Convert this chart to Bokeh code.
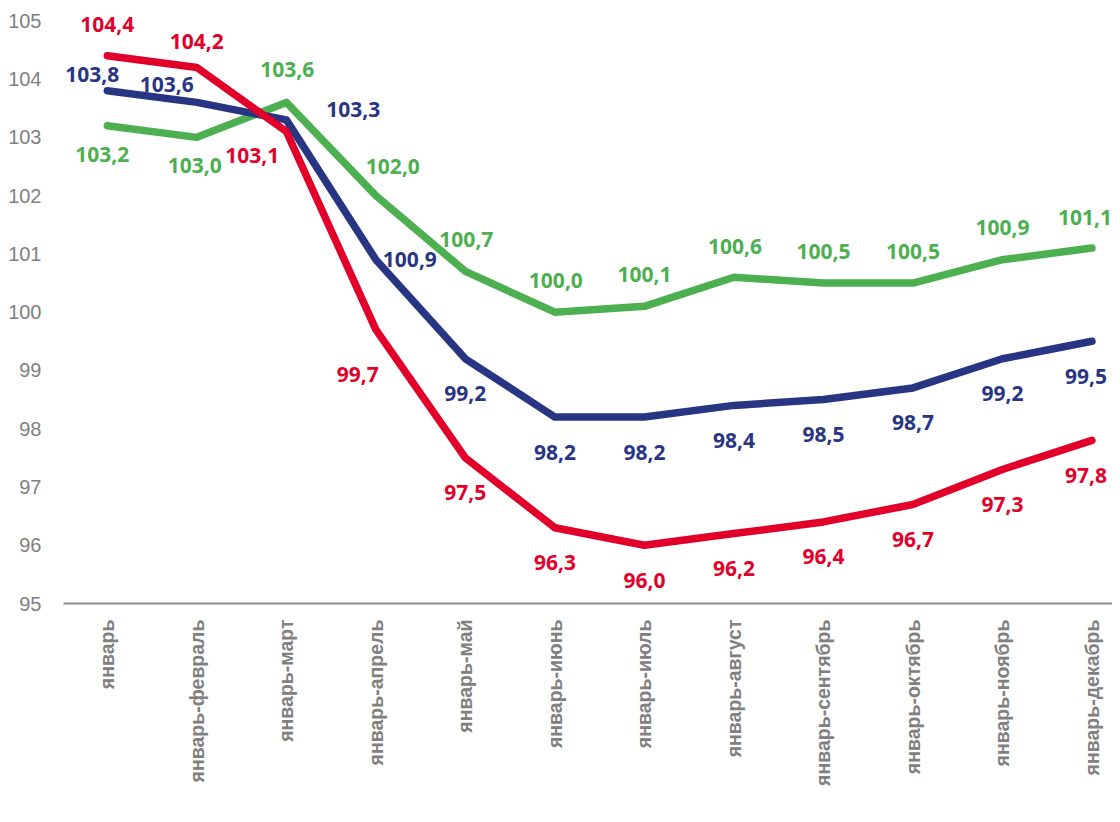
from bokeh.plotting import figure
from bokeh.models import ColumnDataSource, LabelSet, Range1d, FixedTicker
from bokeh.embed import file_html
from bokeh.resources import INLINE
from bokeh.core.properties import value

months = ["январь", "январь-февраль", "январь-март", "январь-апрель", "январь-май",
          "январь-июнь", "январь-июль", "январь-август", "январь-сентябрь",
          "январь-октябрь", "январь-ноябрь", "январь-декабрь"]
red_vals = [104.4, 104.2, 103.1, 99.7, 97.5, 96.3, 96.0, 96.2, 96.4, 96.7, 97.3, 97.8]
blue_vals = [103.8, 103.6, 103.3, 100.9, 99.2, 98.2, 98.2, 98.4, 98.5, 98.7, 99.2, 99.5]
green_vals = [103.2, 103.0, 103.6, 102.0, 100.7, 100.0, 100.1, 100.6, 100.5, 100.5, 100.9, 101.1]
y_ticks = [95, 96, 97, 98, 99, 100, 101, 102, 103, 104, 105]

# label placement offsets in screen pixels (style, not data)
red_dx = [0, 0, -34, -18, 0, 0, 0, 0, 0, 0, 0, -6]
red_dy = [31, 26, -24, -45, -35, -35, -35, -35, -35, -35, -35, -35]
blue_dx = [-15, -30, 67, 34, 0, 0, 0, 0, 0, 0, 0, -6]
blue_dy = [16, 18, 10, 0, -35, -35, -35, -35, -35, -35, -35, -35]
green_dx = [-5, -2, 1, 17, 1, 1, 0, 1, 0, 0, 0, -7]
green_dy = [-29, -28, 33, 29, 32, 32, 32, 31, 32, 32, 32, 31]

RED = "#E2002B"
BLUE = "#283583"
GREEN = "#4CAF50"
GRAY = "#808080"

xs = list(range(len(months)))

p = figure(width=1112, height=814, output_backend="svg", toolbar_location=None,
           x_range=Range1d(-0.49, 11.23), y_range=Range1d(95, 105.16),
           min_border_left=63, min_border_right=0, min_border_top=11, min_border_bottom=211)
p.outline_line_color = None
p.grid.grid_line_color = None
p.background_fill_color = "white"
p.border_fill_color = "white"

series = [(green_vals, GREEN, green_dx, green_dy),
          (blue_vals, BLUE, blue_dx, blue_dy),
          (red_vals, RED, red_dx, red_dy)]
for vals, col, dx, dy in series:
    p.line(xs, vals, line_color=col, line_width=7.5, line_join="round", line_cap="round")

for vals, col, dx, dy in series:
    src = ColumnDataSource(dict(x=xs, y=vals, t=[f"{v:.1f}".replace(".", ",") for v in vals],
                                dx=dx, dy=dy))
    p.add_layout(LabelSet(x="x", y="y", text="t", source=src, x_offset="dx", y_offset="dy",
                          text_align="center", text_baseline="middle",
                          text_font=value("Open Sans"), text_font_style="bold",
                          text_font_size="21px", text_color=col))

# x axis
xa = p.xaxis[0]
xa.ticker = FixedTicker(ticks=xs)
xa.major_label_overrides = {i: m for i, m in enumerate(months)}
xa.major_label_orientation = 1.5707963
xa.major_label_text_font = "Liberation Sans"
xa.major_label_text_font_style = "bold"
xa.major_label_text_font_size = "19.5px"
xa.major_label_text_color = GRAY
xa.major_label_standoff = 10
xa.major_tick_line_color = None
xa.minor_tick_line_color = None
xa.axis_line_color = "#8c8c8c"
xa.axis_line_width = 2

ya = p.yaxis[0]
ya.ticker = FixedTicker(ticks=y_ticks)
ya.major_label_text_font = "Liberation Sans"
ya.major_label_text_font_size = "20px"
ya.major_label_text_color = GRAY
ya.major_label_standoff = 16
ya.major_tick_line_color = None
ya.minor_tick_line_color = None
ya.axis_line_color = None

open("out.html", "w").write(file_html(p, INLINE))
